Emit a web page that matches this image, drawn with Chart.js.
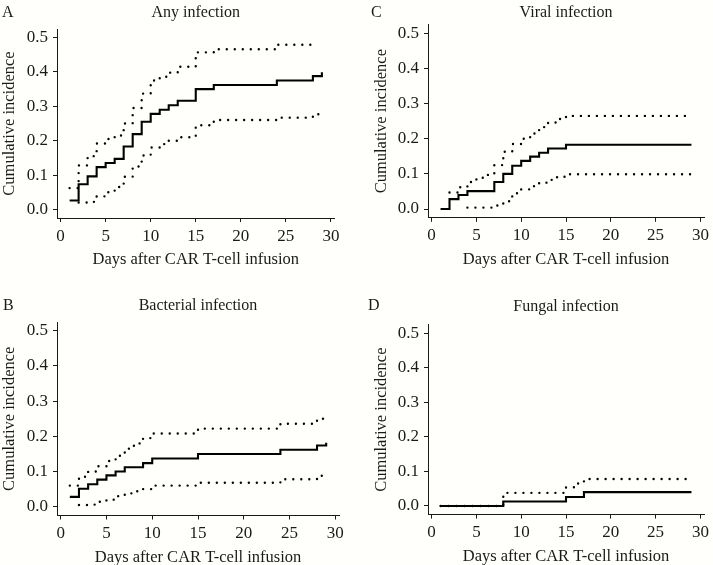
<!DOCTYPE html>
<html>
<head>
<meta charset="utf-8">
<script src="https://cdn.jsdelivr.net/npm/chart.js@4.4.0/dist/chart.umd.min.js"></script>
<style>
  html, body { margin: 0; padding: 0; background: #fffffb; overflow: hidden; }
  #wrap { position: relative; width: 713px; height: 565px; }
  canvas { position: absolute; }
</style>
</head>
<body>
<div id="wrap">
  <canvas id="panelA" width="356" height="282" style="left:0;top:0"></canvas>
  <canvas id="panelC" width="357" height="282" style="left:356px;top:0"></canvas>
  <canvas id="panelB" width="356" height="283" style="left:0;top:282px"></canvas>
  <canvas id="panelD" width="357" height="283" style="left:356px;top:282px"></canvas>
</div>
<script>
var xTicks = [0, 5, 10, 15, 20, 25, 30];
var yTicks = [0, 0.1, 0.2, 0.3, 0.4, 0.5];
var yTickLabels = ['0.0', '0.1', '0.2', '0.3', '0.4', '0.5'];
var xTitle = 'Days after CAR T-cell infusion';
var yTitle = 'Cumulative incidence';

// A - any infection
var anyDays = [1, 2, 3, 4, 5, 6, 7, 8, 9, 10, 11, 12, 13, 15, 17, 24, 28, 29];
var anyCI = [0.026, 0.073, 0.096, 0.123, 0.135, 0.147, 0.183, 0.219, 0.255, 0.278, 0.290, 0.303, 0.316, 0.350, 0.362, 0.375, 0.388, 0.399];
var anyUpperDays = [1, 2, 3, 4, 5, 6, 7, 8, 9, 10, 11, 12, 13, 15, 17, 24, 28];
var anyUpper = [0.062, 0.128, 0.155, 0.192, 0.205, 0.215, 0.250, 0.295, 0.337, 0.375, 0.386, 0.398, 0.415, 0.457, 0.466, 0.479, 0.490];
var anyLowerDays = [2, 3, 4, 5, 6, 7, 8, 9, 10, 11, 12, 13, 15, 17, 24, 28, 29];
var anyLower = [0.020, 0.022, 0.038, 0.050, 0.065, 0.095, 0.125, 0.157, 0.180, 0.190, 0.200, 0.210, 0.245, 0.260, 0.267, 0.277, 0.288];

// B - bacterial infection
var bactDays = [1, 2, 3, 4, 5, 6, 7, 9, 10, 15, 24, 28, 29];
var bactCI = [0.028, 0.051, 0.064, 0.077, 0.089, 0.100, 0.112, 0.124, 0.137, 0.150, 0.162, 0.174, 0.182];
var bactUpperDays = [1, 2, 3, 4, 5, 6, 7, 8, 9, 10, 15, 24, 28, 29];
var bactUpper = [0.060, 0.085, 0.100, 0.115, 0.130, 0.145, 0.165, 0.180, 0.195, 0.208, 0.222, 0.236, 0.250, 0.252];
var bactLowerDays = [2, 3, 4, 5, 6, 7, 8, 9, 10, 15, 24, 28, 29];
var bactLower = [0.005, 0.006, 0.014, 0.020, 0.030, 0.038, 0.044, 0.050, 0.060, 0.068, 0.078, 0.088, 0.090];

// C - viral infection
var viralDays = [1, 2, 3, 4, 7, 8, 9, 10, 11, 12, 13, 15, 29];
var viralCI = [0, 0.028, 0.040, 0.051, 0.077, 0.100, 0.123, 0.137, 0.149, 0.160, 0.172, 0.183, 0.183];
var viralUpperDays = [2, 3, 4, 5, 6, 7, 8, 9, 10, 11, 12, 13, 14, 15, 29];
var viralUpper = [0.047, 0.062, 0.077, 0.089, 0.097, 0.125, 0.163, 0.185, 0.200, 0.215, 0.233, 0.246, 0.256, 0.265, 0.265];
var viralLowerDays = [4, 7, 8, 9, 10, 11, 12, 13, 14, 15, 29];
var viralLower = [0.004, 0.010, 0.022, 0.045, 0.056, 0.065, 0.075, 0.083, 0.092, 0.099, 0.099];

// D - fungal infection (no lower band drawn)
var fungDays = [1, 8, 15, 17, 29];
var fungCI = [0, 0.013, 0.026, 0.040, 0.040];
var fungUpperDays = [1, 8, 15, 16, 17, 29];
var fungUpper = [0, 0.038, 0.054, 0.065, 0.078, 0.078];

var FONT = '"Liberation Serif", "DejaVu Serif", serif';
var INK = '#1a1a1a';

function pts(days, vals) {
    return days.map(function (d, i) { return {x: d, y: vals[i]}; });
}

function dotted(data) {
    return {
        data: data,
        borderColor: '#000',
        borderWidth: 2.4,
        borderDash: [0, 8],
        borderCapStyle: 'round',
        stepped: true,
        pointRadius: 0,
        fill: false,
    };
}

// panel letter + title over the plot area
var panelText = {
    id: 'panelText',
    afterDraw: function (chart, args, o) {
        var ctx = chart.ctx;
        var a = chart.chartArea;
        ctx.save();
        ctx.fillStyle = INK;
        ctx.font = '16px ' + FONT;
        ctx.textBaseline = 'alphabetic';
        ctx.textAlign = 'left';
        ctx.fillText(o.letter, o.letterX, o.letterY);
        ctx.textAlign = 'center';
        ctx.fillText(o.title, (a.left + a.right) / 2, o.titleY);
        ctx.restore();
    }
};

function makePanel(id, p) {
    var canvas = document.getElementById(id);
    var W = canvas.width, H = canvas.height;
    var datasets = [{
        data: pts(p.days, p.est),
        borderColor: '#000',
        borderWidth: 2.1,
        stepped: true,
        pointRadius: 0,
        fill: false,
    }];
    if (p.upperDays) datasets.push(dotted(pts(p.upperDays, p.upper)));
    if (p.lowerDays) datasets.push(dotted(pts(p.lowerDays, p.lower)));

    var tickFont = {family: FONT, size: 17};
    var titleFont = {family: FONT, size: 16.5, lineHeight: 1};
    new Chart(canvas, {
        type: 'line',
        data: {datasets: datasets},
        options: {
            responsive: false,
            animation: false,
            devicePixelRatio: 1,
            layout: {padding: {left: 0, top: p.top, right: W - p.right, bottom: 0}},
            plugins: {
                legend: {display: false},
                tooltip: {enabled: false},
                panelText: {letter: p.letter, letterX: p.letterX, letterY: p.letterY, title: p.title, titleY: p.titleY},
            },
            scales: {
                x: {
                    type: 'linear',
                    min: -0.4,
                    max: 30.4,
                    afterBuildTicks: function (s) {
                        s.ticks = xTicks.map(function (v) { return {value: v}; });
                    },
                    afterFit: function (s) { s.height = H - p.bottom; },
                    grid: {drawOnChartArea: false, drawTicks: true, tickLength: 4, tickColor: INK, color: INK},
                    border: {display: true, color: INK, width: 1},
                    ticks: {
                        color: INK, font: tickFont, padding: 4, maxRotation: 0, autoSkip: false,
                        callback: function (v) { return String(v); }
                    },
                    title: {
                        display: true, text: xTitle, color: INK, font: titleFont,
                        padding: {top: 0, bottom: p.xTitlePad}
                    }
                },
                y: {
                    type: 'linear',
                    min: -0.025,
                    max: 0.525,
                    afterBuildTicks: function (s) {
                        s.ticks = yTicks.map(function (v) { return {value: v}; });
                    },
                    afterFit: function (s) { s.width = p.left; },
                    grid: {drawOnChartArea: false, drawTicks: true, tickLength: 4, tickColor: INK, color: INK},
                    border: {display: true, color: INK, width: 1},
                    ticks: {
                        color: INK, font: tickFont, padding: 5, autoSkip: false,
                        callback: function (v, i) { return yTickLabels[i]; }
                    },
                    title: {
                        display: true, text: yTitle, color: INK, font: titleFont,
                        padding: {top: p.yTitlePad, bottom: 0}
                    }
                }
            }
        },
        plugins: [panelText]
    });
}

makePanel('panelA', {
    days: anyDays, est: anyCI,
    upperDays: anyUpperDays, upper: anyUpper,
    lowerDays: anyLowerDays, lower: anyLower,
    left: 57, right: 334.5, top: 29, bottom: 218,
    letter: 'A', letterX: 2, letterY: 17,
    title: 'Any infection', titleY: 16.5,
    xTitlePad: 14, yTitlePad: 1.4
});

makePanel('panelC', {
    days: viralDays, est: viralCI,
    upperDays: viralUpperDays, upper: viralUpper,
    lowerDays: viralLowerDays, lower: viralLower,
    left: 72, right: 351.4, top: 24.5, bottom: 217.8,
    letter: 'C', letterX: 15, letterY: 17,
    title: 'Viral infection', titleY: 16.7,
    xTitlePad: 14, yTitlePad: 17.4
});

makePanel('panelB', {
    days: bactDays, est: bactCI,
    upperDays: bactUpperDays, upper: bactUpper,
    lowerDays: bactLowerDays, lower: bactLower,
    left: 57, right: 339, top: 40, bottom: 233.5,
    letter: 'B', letterX: 3, letterY: 28,
    title: 'Bacterial infection', titleY: 28,
    xTitlePad: -0.5, yTitlePad: 1.4
});

makePanel('panelD', {
    days: fungDays, est: fungCI,
    upperDays: fungUpperDays, upper: fungUpper,
    left: 72, right: 351.4, top: 42.7, bottom: 232.6,
    letter: 'D', letterX: 12, letterY: 28,
    title: 'Fungal infection', titleY: 28.5,
    xTitlePad: 0, yTitlePad: 17.4
});
</script>
</body>
</html>
